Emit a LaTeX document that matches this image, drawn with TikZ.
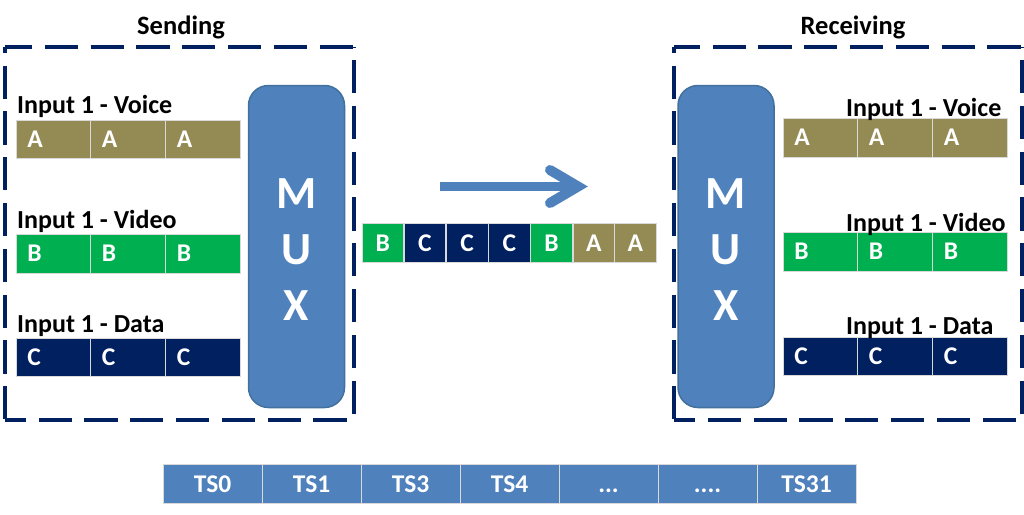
\documentclass[tikz,border=0pt]{standalone}
\usepackage{fontspec}
\setmainfont{Carlito}
\definecolor{olivec}{HTML}{948A54}
\definecolor{greenc}{HTML}{00B050}
\definecolor{navyc}{HTML}{002060}
\definecolor{bluec}{HTML}{4F81BD}
\definecolor{blueb}{HTML}{41719C}
\newcommand{\rowcells}[8]{%
  \node[slot,fill=#2,minimum height=#4,minimum width=74.5,text width=52,anchor=north west] (#1a) at (#5,#3) {#8};
  \node[slot,fill=#2,minimum height=#4,minimum width=74.5,text width=52,anchor=north west] (#1b) at (#6,#3) {#8};
  \node[slot,fill=#2,minimum height=#4,minimum width=74.5,text width=52,anchor=north west] (#1c) at (#7,#3) {#8};
}
\newcommand{\midcell}[4]{\node[midslot,fill=#3,anchor=north west] (#1) at (#2,223) {#4};}
\newcommand{\tscell}[3]{\node[tsslot,anchor=north west] (#1) at (#2,464) {\vphantom{TS}#3};}
\begin{document}
\begin{tikzpicture}[x=1pt,y=-1pt,
  slot/.style={draw=white!85!black,line width=0.8pt,outer sep=0pt,inner sep=0pt,inner xsep=11pt,align=left,text=white,
    font=\fontsize{25.5}{27}\selectfont\bfseries},
  midslot/.style={draw=white!85!black,line width=0.8pt,outer sep=0pt,inner sep=0pt,minimum width=41.5,minimum height=39.5,align=center,text=white,
    font=\fontsize{25.5}{27}\selectfont\bfseries},
  tsslot/.style={draw=white!85!black,line width=0.8pt,outer sep=0pt,fill=bluec,inner sep=0pt,minimum width=99,minimum height=39.5,align=center,text=white,
    font=\fontsize{25.5}{27}\selectfont\bfseries},
  muxbox/.style={draw=blueb,line width=1.5pt,outer sep=0pt,fill=bluec,rounded corners=20pt,minimum width=96,minimum height=322,inner sep=0pt,
    anchor=north west},
  muxtext/.style={inner sep=0pt,align=center,text=white,font=\fontsize{46}{56}\selectfont\bfseries},
  heading/.style={inner sep=0pt,text=black,font=\fontsize{26.5}{28}\selectfont\bfseries},
  label/.style={inner sep=0pt,text=black,anchor=west,font=\fontsize{26}{28}\selectfont\bfseries},
  dashside/.style={draw=navyc,line width=4pt,dash pattern=on 33.2pt off 12.6pt},
  flow/.style={draw=bluec,line width=9pt}
]
\useasboundingbox (0,0) rectangle (1024,514);
\fill[white] (0,0) rectangle (1024,514);

% dashed frames
\coordinate (sTL) at (5,47); \coordinate (sTR) at (353.5,47);
\coordinate (sBL) at (5,420); \coordinate (sBR) at (353.5,420);
\draw[dashside,dash phase=6] (sTL) -- (sTR);
\draw[dashside,dash phase=27.2] (sTL) -- (sBL);
\draw[dashside,dash phase=38.8] (sBR) -- (sBL);
\draw[dashside,dash phase=32.8] (sTR) -- (sBR);
\coordinate (rTL) at (674,47); \coordinate (rTR) at (1022,47);
\coordinate (rBL) at (674,420); \coordinate (rBR) at (1022,420);
\draw[dashside,dash phase=7.2] (rTL) -- (rTR);
\draw[dashside,dash phase=27.2] (rTL) -- (rBL);
\draw[dashside,dash phase=12] (rBL) -- (rBR);
\draw[dashside,dash phase=32.8] (rTR) -- (rBR);

\node[heading] (sendT) at (181,27) {Sending};
\node[heading] (recvT) at (853,27) {Receiving};

% MUX
\node[muxbox] (muxS) at (248.5,85.5) {};
\node[muxbox] (muxR) at (678,85.5) {};
\node[muxtext] (muxSt) at ([yshift=-3]muxS.center) {M\\U\\X};
\node[muxtext] (muxRt) at ([yshift=-3]muxR.center) {M\\U\\X};

% sending rows
\rowcells{sv}{olivec}{120}{38}{16}{90.5}{165.5}{A}
\rowcells{sb}{greenc}{234}{39}{16}{90.5}{165.5}{B}
\rowcells{sc}{navyc}{338}{38}{16}{90.5}{165.5}{C}
\node[label] (sl1) at (17,106) {Input 1 - Voice};
\node[label] (sl2) at (17,221) {Input 1 - Video};
\node[label] (sl3) at (17,326) {Input 1 - Data};

% receiving rows
\rowcells{rv}{olivec}{118}{39}{783}{857.5}{932.5}{A}
\rowcells{rb}{greenc}{232}{39}{783}{857.5}{932.5}{B}
\rowcells{rc}{navyc}{337}{38}{783}{857.5}{932.5}{C}
\node[label] (rl1) at (846,109) {Input 1 - Voice};
\node[label] (rl2) at (846,224) {Input 1 - Video};
\node[label] (rl3) at (846,328) {Input 1 - Data};

% arrow
\coordinate (aS) at (440,186.5); \coordinate (aE) at (578,186.5);
\coordinate (hT) at (550,170); \coordinate (hB) at (550,203); \coordinate (hM) at (578,186.5);
\draw[flow] (aS) -- (aE);
\draw[flow,line width=10pt,line cap=round,miter limit=10] (hT) -- (hM) -- (hB);

% multiplexed stream
\midcell{m1}{362}{greenc}{B}
\midcell{m2}{404.2}{navyc}{C}
\midcell{m3}{446.4}{navyc}{C}
\midcell{m4}{488.6}{navyc}{C}
\midcell{m5}{530.8}{greenc}{B}
\midcell{m6}{573}{olivec}{A}
\midcell{m7}{614.7}{olivec}{A}

% time slots
\tscell{t0}{163}{TS0}
\tscell{t1}{262}{TS1}
\tscell{t2}{361}{TS3}
\tscell{t3}{460}{TS4}
\tscell{t4}{559}{.\kern0pt.\kern0pt.}
\tscell{t5}{658}{.\kern0pt.\kern0pt.\kern0pt.}
\tscell{t6}{757}{TS31}
\end{tikzpicture}
\end{document}
